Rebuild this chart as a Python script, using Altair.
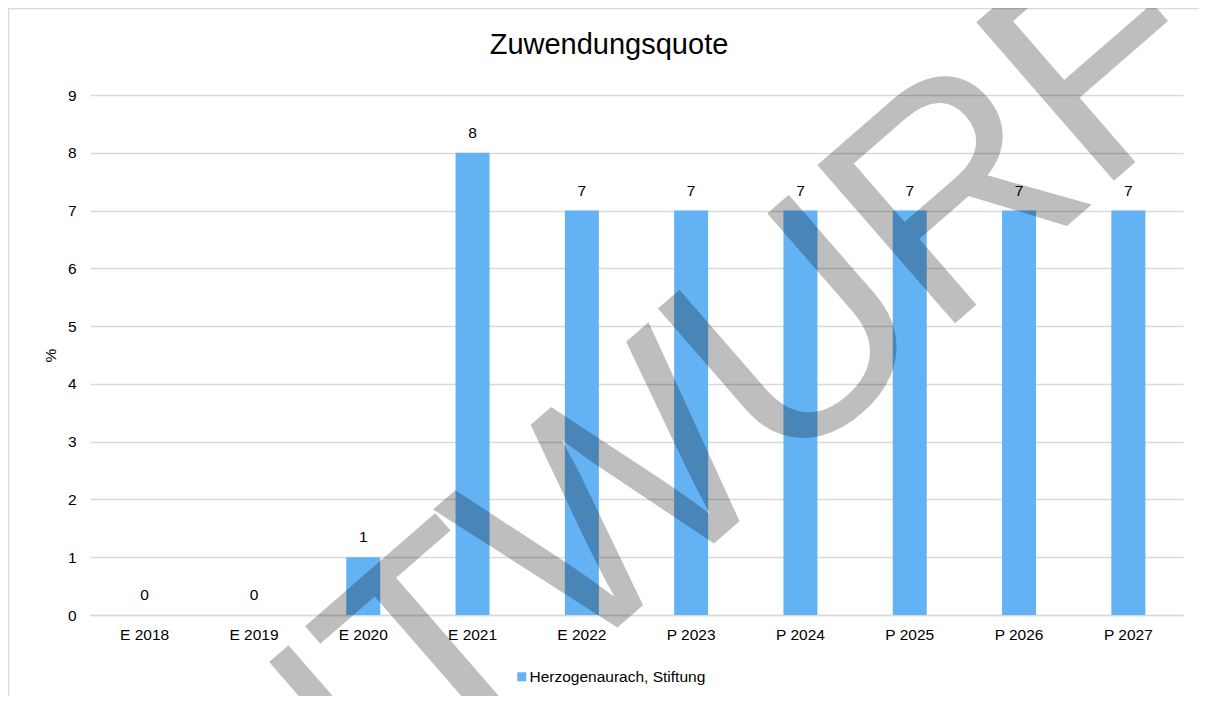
import math
import altair as alt
import pandas as pd

# ---- data ----
categories = ["E 2018", "E 2019", "E 2020", "E 2021", "E 2022",
              "P 2023", "P 2024", "P 2025", "P 2026", "P 2027"]
values = [0, 0, 1, 8, 7, 7, 7, 7, 7, 7]
series_name = "Herzogenaurach, Stiftung"
chart_title = "Zuwendungsquote"
y_title = "%"
y_ticks = [0, 1, 2, 3, 4, 5, 6, 7, 8, 9]
watermark = "ENTWURF"

df = pd.DataFrame({"Jahr": categories, "Wert": values,
                   "Reihe": [series_name] * len(categories)})

FONT = "Arial, Liberation Sans, sans-serif"
BAR = "#63B3F4"
GRID = "#D9D9D9"
PW, PH = 1093, 520
PAD = {"left": 82, "top": 87, "right": 16, "bottom": 81}

x_enc = alt.X("Jahr:N", sort=categories,
              scale=alt.Scale(paddingInner=0, paddingOuter=0),
              axis=alt.Axis(title=None, labelAngle=0, ticks=False,
                            domainColor=GRID, domainWidth=1.3,
                            labelPadding=12, labelFontSize=15.5,
                            labelFont=FONT, labelColor="#000"))
y_enc = alt.Y("Wert:Q",
              scale=alt.Scale(domain=[0, 9], nice=False),
              axis=alt.Axis(title=y_title, values=y_ticks, format="d",
                            domain=False, ticks=False, grid=True,
                            gridColor=GRID, gridWidth=1.3, labelPadding=14,
                            labelFontSize=15.5, labelFont=FONT,
                            labelColor="#000", titleFont=FONT,
                            titleFontSize=15.5, titleFontWeight="normal",
                            titleColor="#000", titlePadding=9))

base = alt.Chart(df)

bars = base.mark_bar(size=34).encode(
    x=x_enc, y=y_enc,
    color=alt.Color("Reihe:N", scale=alt.Scale(range=[BAR]),
                    legend=alt.Legend(title=None, orient="none",
                                      legendX=424, legendY=574,
                                      symbolType="square", symbolSize=81,
                                      symbolStrokeWidth=0, labelOffset=0,
                                      labelLimit=0,
                                      labelFontSize=15.5, labelFont=FONT,
                                      labelColor="#000", padding=0)))

labels = base.mark_text(baseline="alphabetic", dy=-15, fontSize=15.5,
                        font=FONT, color="#000").encode(
    x=alt.X("Jahr:N", sort=categories),
    y="Wert:Q",
    text=alt.Text("Wert:Q", format="d"))

one = pd.DataFrame({"t": [chart_title]})
title = alt.Chart(one).mark_text(fontSize=29, font=FONT, color="#000",
                                 baseline="middle", align="center").encode(
    x=alt.value(519), y=alt.value(-50), text="t:N")

# chart frame (left & top edges visible in the reference)
frame_v = alt.Chart(one).mark_rule(color=GRID, strokeWidth=1.5).encode(
    x=alt.value(-81.5), y=alt.value(-87), y2=alt.value(PH + PAD["bottom"]))
frame_h = alt.Chart(one).mark_rule(color=GRID, strokeWidth=1.5).encode(
    x=alt.value(-82), x2=alt.value(PW + PAD["right"]), y=alt.value(-86.5))

# ---- watermark "ENTWURF": letters laid out along a rising diagonal ----
ADV = {"E": 0.667, "N": 0.722, "T": 0.611, "W": 0.944,
       "U": 0.722, "R": 0.722, "F": 0.611}          # Arial advance widths
WM_SIZE = 305          # glyph size
WM_EM = 295            # spacing unit along the path
WM_PATH_DEG = 42       # path rises at this angle
WM_ROT = 319           # glyph rotation
WM_REF = 3             # index of the letter used as anchor ("W")
WM_REF_PT = (618 - 90, 505 - 95)   # anchor centre in plot coordinates

cum, pos = 0.0, []
for ch in watermark:
    pos.append(cum + ADV[ch] / 2)
    cum += ADV[ch]
dx_u = math.cos(math.radians(WM_PATH_DEG))
dy_u = -math.sin(math.radians(WM_PATH_DEG))
wm_layers = []
for i, ch in enumerate(watermark):
    s = (pos[i] - pos[WM_REF]) * WM_EM
    px = WM_REF_PT[0] + s * dx_u
    py = WM_REF_PT[1] + s * dy_u
    wm_layers.append(
        alt.Chart(pd.DataFrame({"c": [ch]})).mark_text(
            font="Liberation Sans, Arial, sans-serif", fontSize=WM_SIZE,
            angle=WM_ROT, color="#000", opacity=0.25, align="center",
            baseline="middle").encode(x=alt.value(px), y=alt.value(py),
                                      text="c:N"))

chart = alt.layer(frame_v, frame_h, bars, labels, title, *wm_layers).properties(
    width=PW, height=PH,
    autosize=alt.AutoSizeParams(type="none"),
    padding=PAD,
    background="white",
).configure_view(stroke=None)

chart.save("out.html", embed_options={"renderer": "svg", "actions": False})
